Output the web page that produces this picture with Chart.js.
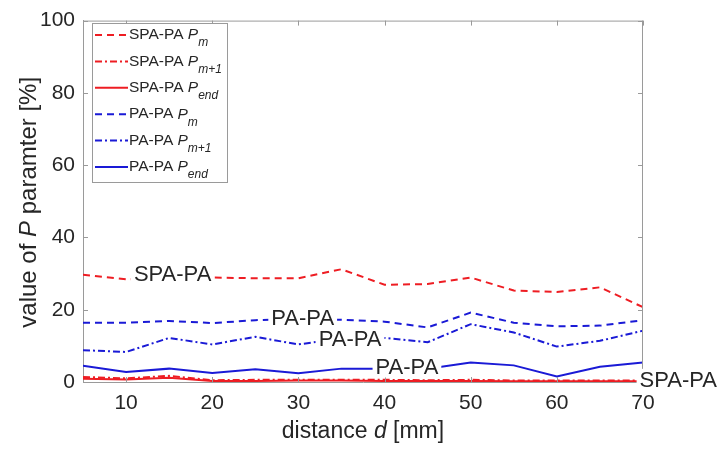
<!DOCTYPE html>
<html>
<head>
<meta charset="utf-8">
<script src="https://cdn.jsdelivr.net/npm/chart.js@4/dist/chart.umd.min.js"></script>
<style>
  html, body { margin: 0; padding: 0; background: #ffffff; }
  #wrap { width: 721px; height: 452px; }
</style>
</head>
<body>
<div id="wrap"><canvas id="c" width="721" height="452"></canvas></div>
<script>
// distance d [mm]
const distance = [5, 10, 15, 20, 25, 30, 35, 40, 45, 50, 55, 60, 65, 70];
const xTicks = [10, 20, 30, 40, 50, 60, 70];
const yTicks = [0, 20, 40, 60, 80, 100];

// value of P parameter [%]
const spaPaPm   = [29.7, 28.4, 29.0, 28.9, 28.7, 28.7, 31.2, 26.9, 27.1, 28.9, 25.3, 24.9, 26.2, 20.7];
const spaPaPm1  = [1.4, 1.0, 1.7, 0.5, 0.6, 0.6, 0.6, 0.6, 0.5, 0.6, 0.4, 0.4, 0.4, 0.4];
const spaPaPend = [0.9, 0.7, 1.2, 0.3, 0.3, 0.4, 0.4, 0.3, 0.3, 0.3, 0.2, 0.2, 0.2, 0.2];
const paPaPm    = [16.4, 16.4, 16.9, 16.3, 17.1, 17.5, 17.2, 16.7, 15.1, 19.2, 16.4, 15.4, 15.6, 17.1];
const paPaPm1   = [8.8, 8.3, 12.2, 10.4, 12.5, 10.4, 12.0, 12.2, 11.0, 16.0, 13.7, 9.8, 11.4, 14.2];
const paPaPend  = [4.5, 2.8, 3.7, 2.5, 3.5, 2.4, 3.7, 3.7, 3.7, 5.4, 4.6, 1.5, 4.2, 5.4];

// series names: prefix, italic symbol, subscript
const seriesPrefix = ['SPA-PA', 'SPA-PA', 'SPA-PA', 'PA-PA', 'PA-PA', 'PA-PA'];
const seriesSub = ['m', 'm+1', 'end', 'm', 'm+1', 'end'];

// text labels placed inside the axes (data coordinates)
const noteText = ['SPA-PA', 'PA-PA', 'PA-PA', 'PA-PA', 'SPA-PA'];
const noteX = [15.4, 30.5, 36.0, 42.6, 74.1];
const noteY = [30.0, 17.6, 11.8, 4.3, 0.6];

const RED = '#ee1d23';
const BLUE = '#1a1ad6';
const DASH = [7, 5];
const DASHDOT = [7, 3, 2, 3];
const FONT = "'Liberation Sans', Arial, Helvetica, sans-serif";
const TXT = '#262626';
const AXIS = '#9a9a9a';

function series(values, color, dash, idx) {
  return {
    label: seriesPrefix[idx] + ' P_' + seriesSub[idx],
    prefix: seriesPrefix[idx],
    sub: seriesSub[idx],
    data: distance.map((d, i) => ({ x: d, y: values[i] })),
    borderColor: color,
    backgroundColor: color,
    borderDash: dash,
    borderWidth: 2,
    pointRadius: 0,
    tension: 0,
    fill: false
  };
}

// mixed upright / italic text helper
function drawRich(ctx, parts, x, y, align) {
  let total = 0;
  parts.forEach(p => { ctx.font = p.font; total += ctx.measureText(p.t).width; });
  let cx = align === 'center' ? x - total / 2 : x;
  parts.forEach(p => {
    ctx.font = p.font;
    ctx.fillText(p.t, cx, y + (p.dy || 0));
    cx += ctx.measureText(p.t).width;
  });
}

const decorPlugin = {
  id: 'decor',
  afterDraw(chart) {
    const ctx = chart.ctx;
    const a = chart.chartArea;
    const xs = chart.scales.x, ys = chart.scales.y;
    ctx.save();

    // box on top / right, inward tick marks on all sides
    ctx.strokeStyle = AXIS;
    ctx.lineWidth = 1;
    ctx.setLineDash([]);
    ctx.beginPath();
    ctx.moveTo(a.left, a.top + 0.5); ctx.lineTo(a.right, a.top + 0.5);
    ctx.moveTo(a.right - 0.5, a.top); ctx.lineTo(a.right - 0.5, a.bottom);
    xTicks.forEach(v => {
      const px = Math.round(xs.getPixelForValue(v)) + 0.5;
      ctx.moveTo(px, a.bottom); ctx.lineTo(px, a.bottom - 5);
      ctx.moveTo(px, a.top); ctx.lineTo(px, a.top + 5);
    });
    yTicks.forEach(v => {
      const py = Math.round(ys.getPixelForValue(v)) + 0.5;
      ctx.moveTo(a.left, py); ctx.lineTo(a.left + 5, py);
      ctx.moveTo(a.right, py); ctx.lineTo(a.right - 5, py);
    });
    ctx.stroke();

    // in-axes text labels with white backing
    ctx.font = '22px ' + FONT;
    ctx.textBaseline = 'middle';
    ctx.textAlign = 'center';
    noteText.forEach((t, i) => {
      const px = xs.getPixelForValue(noteX[i]);
      const py = ys.getPixelForValue(noteY[i]);
      const w = ctx.measureText(t).width;
      ctx.fillStyle = '#ffffff';
      ctx.fillRect(px - w / 2 - 3, py - 11, w + 6, 22);
      ctx.fillStyle = TXT;
      ctx.fillText(t, px, py + 1);
    });

    // legend box
    const lx = 92, ly = 23, lw = 135, lh = 159;
    ctx.fillStyle = '#ffffff';
    ctx.fillRect(lx, ly, lw, lh);
    ctx.strokeStyle = AXIS;
    ctx.strokeRect(lx + 0.5, ly + 0.5, lw, lh);
    ctx.textAlign = 'left';
    ctx.textBaseline = 'middle';
    chart.data.datasets.forEach((ds, i) => {
      const ry = 35 + i * 26.4;
      ctx.strokeStyle = ds.borderColor;
      ctx.lineWidth = 2;
      ctx.setLineDash(ds.borderDash);
      ctx.beginPath();
      ctx.moveTo(95, ry); ctx.lineTo(128, ry);
      ctx.stroke();
      ctx.setLineDash([]);
      ctx.fillStyle = TXT;
      drawRich(ctx, [
        { t: ds.prefix + ' ', font: '15.5px ' + FONT },
        { t: 'P', font: 'italic 15.5px ' + FONT },
        { t: ds.sub, font: 'italic 12px ' + FONT, dy: 8 }
      ], 129, ry, 'left');
    });

    // axis titles
    ctx.fillStyle = TXT;
    ctx.textBaseline = 'middle';
    drawRich(ctx, [
      { t: 'distance ', font: '23px ' + FONT },
      { t: 'd', font: 'italic 23px ' + FONT },
      { t: ' [mm]', font: '23px ' + FONT }
    ], (a.left + a.right) / 2, 432, 'center');

    ctx.translate(29, (a.top + a.bottom) / 2 + 1);
    ctx.rotate(-Math.PI / 2);
    drawRich(ctx, [
      { t: 'value of ', font: '24px ' + FONT },
      { t: 'P', font: 'italic 24px ' + FONT },
      { t: ' paramter [%]', font: '24px ' + FONT }
    ], 0, 0, 'center');

    ctx.restore();
  }
};

new Chart(document.getElementById('c'), {
  type: 'line',
  data: {
    datasets: [
      series(spaPaPm, RED, DASH, 0),
      series(spaPaPm1, RED, DASHDOT, 1),
      series(spaPaPend, RED, [], 2),
      series(paPaPm, BLUE, DASH, 3),
      series(paPaPm1, BLUE, DASHDOT, 4),
      series(paPaPend, BLUE, [], 5)
    ]
  },
  options: {
    responsive: false,
    animation: false,
    layout: { padding: { top: 15, right: 78, left: 0, bottom: 0 } },
    plugins: { legend: { display: false }, tooltip: { enabled: false } },
    scales: {
      x: {
        type: 'linear',
        min: 5,
        max: 70,
        afterBuildTicks: s => { s.ticks = xTicks.map(v => ({ value: v })); },
        afterFit: s => { s.height = 70; },
        grid: { display: false, drawTicks: false },
        border: { display: true, color: AXIS, width: 1 },
        ticks: { color: TXT, font: { family: FONT, size: 21 }, padding: 9, maxRotation: 0, autoSkip: false }
      },
      y: {
        type: 'linear',
        min: 0,
        max: 100,
        afterBuildTicks: s => { s.ticks = yTicks.map(v => ({ value: v })); },
        afterFit: s => { s.width = 83; },
        grid: { display: false, drawTicks: false },
        border: { display: true, color: AXIS, width: 1 },
        ticks: { color: TXT, font: { family: FONT, size: 21 }, padding: 8 }
      }
    }
  },
  plugins: [decorPlugin]
});
</script>
</body>
</html>
